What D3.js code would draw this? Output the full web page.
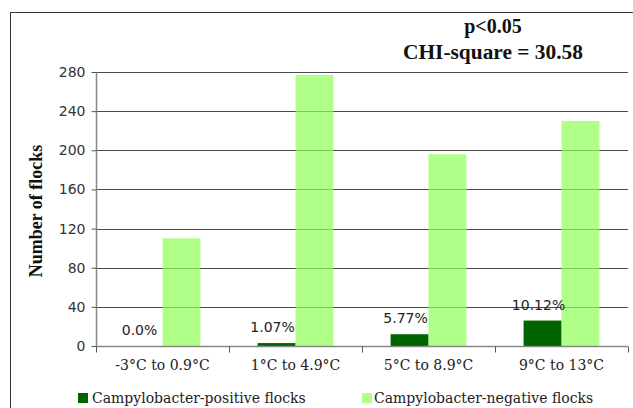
<!DOCTYPE html>
<html>
<head>
<meta charset="utf-8">
<script src="https://cdn.jsdelivr.net/npm/d3@7"></script>
<style>
  html, body { margin: 0; padding: 0; background: #fff; }
  svg { display: block; }
</style>
</head>
<body>
<svg id="chart" width="633" height="408"></svg>
<script>
const categories = ["-3°C to 0.9°C", "1°C to 4.9°C", "5°C to 8.9°C", "9°C to 13°C"];
const seriesNames = ["Campylobacter-positive flocks", "Campylobacter-negative flocks"];
const positiveFlocks = [0, 3, 12, 26];
const negativeFlocks = [110, 277, 196, 230];
const percentLabels = ["0.0%", "1.07%", "5.77%", "10.12%"];
const yTicks = [0, 40, 80, 120, 160, 200, 240, 280];
const titleLines = ["p<0.05", "CHI-square = 30.58"];
const yAxisTitle = "Number of flocks";

const colors = ["#006400", "#8eff55"];

const svg = d3.select("#chart");
const pLeft = 96, pRight = 628, pTop = 72, pBottom = 346;

// Outer frame
svg.append("rect").attr("x", 10.5).attr("y", 12.5).attr("width", 640).attr("height", 420)
  .attr("fill", "none").attr("stroke", "#333").attr("stroke-width", 1);

const x = d3.scaleBand().domain(categories).range([pLeft, pRight]).paddingInner(0.43).paddingOuter(0.215);
const xs = d3.scaleBand().domain([0, 1]).range([0, x.bandwidth()]);
const y = d3.scaleLinear().domain([0, 280]).range([pBottom, pTop]);

// Gridlines
svg.append("g").selectAll("line").data(yTicks.filter(d => d > 0)).join("line")
  .attr("x1", pLeft).attr("x2", pRight)
  .attr("y1", d => Math.round(y(d)) + 0.5).attr("y2", d => Math.round(y(d)) + 0.5)
  .attr("stroke", "#4a4a4a").attr("stroke-width", 1);

// Bars
const rows = categories.map((c, i) => ({ c, vals: [positiveFlocks[i], negativeFlocks[i]] }));
const g = svg.append("g").selectAll("g").data(rows).join("g")
  .attr("transform", d => `translate(${x(d.c)},0)`);
g.selectAll("rect").data(d => d.vals.map((v, k) => ({ v, k }))).join("rect")
  .attr("x", d => xs(d.k)).attr("width", xs.bandwidth())
  .attr("y", d => y(d.v)).attr("height", d => pBottom - y(d.v))
  .attr("fill", d => colors[d.k])
  .attr("fill-opacity", d => d.k === 1 ? 0.7 : 1);

// Y axis
const yAxis = d3.axisLeft(y).tickValues(yTicks).tickSize(5).tickPadding(6);
const ya = svg.append("g").attr("transform", `translate(${pLeft + 0.5},0)`).call(yAxis);
ya.select(".domain").attr("stroke", "#888").attr("stroke-width", 1.5).attr("d", `M0,${pTop}V${pBottom}`);
ya.selectAll(".tick line").attr("stroke", "#555");
ya.selectAll(".tick text").attr("font-family", "DejaVu Sans").attr("font-size", 14).attr("fill", "#333");

// X axis
const xa = svg.append("g").attr("transform", `translate(0,${pBottom + 0.5})`)
  .call(d3.axisBottom(x).tickSize(0).tickPadding(14));
xa.select(".domain").attr("stroke", "#888").attr("stroke-width", 1.5).attr("d", `M${pLeft},0H${pRight}`);
xa.selectAll(".tick text").attr("font-family", "DejaVu Serif").attr("font-size", 14).attr("fill", "#222");
// category boundary ticks
const bounds = categories.map(c => x(c) - x.step() * x.paddingInner() / 2).concat([pRight]);
xa.append("g").selectAll("line").data(bounds).join("line")
  .attr("x1", d => Math.round(d) + 0.5).attr("x2", d => Math.round(d) + 0.5)
  .attr("y1", 0).attr("y2", 6).attr("stroke", "#555");

// Percent labels
svg.append("g").selectAll("text").data(rows).join("text")
  .attr("x", d => x(d.c) + xs(0) + xs.bandwidth() / 2 - 4)
  .attr("y", d => y(d.vals[0]) - 11)
  .attr("text-anchor", "middle")
  .attr("font-family", "DejaVu Sans").attr("font-size", 14).attr("fill", "#222")
  .text((d, i) => percentLabels[i]);

// Y axis title
svg.append("text")
  .attr("transform", `translate(42,${(pTop + pBottom) / 2 + 2}) rotate(-90)`)
  .attr("text-anchor", "middle")
  .attr("font-family", "Liberation Serif").attr("font-weight", "bold").attr("font-size", 18)
  .attr("fill", "#111")
  .text(yAxisTitle);

// Title
svg.append("text").attr("x", 493).attr("y", 33).attr("text-anchor", "middle")
  .attr("font-family", "Liberation Serif").attr("font-weight", "bold").attr("font-size", 20)
  .attr("fill", "#111").text(titleLines[0]);
svg.append("text").attr("x", 493).attr("y", 59).attr("text-anchor", "middle")
  .attr("font-family", "Liberation Serif").attr("font-weight", "bold").attr("font-size", 20)
  .attr("textLength", 180).attr("lengthAdjust", "spacingAndGlyphs")
  .attr("fill", "#111").text(titleLines[1]);

// Legend
const legendX = [78, 362];
const leg = svg.append("g").selectAll("g").data(seriesNames).join("g")
  .attr("transform", (d, i) => `translate(${legendX[i]},393)`);
leg.append("rect").attr("width", 10).attr("height", 10)
  .attr("fill", (d, i) => colors[i]).attr("fill-opacity", (d, i) => i === 1 ? 0.7 : 1);
leg.append("text").attr("x", (d, i) => i === 0 ? 14 : 12).attr("y", 10)
  .attr("font-family", "DejaVu Serif").attr("font-size", 14).attr("fill", "#222")
  .text(d => d);
</script>
</body>
</html>
